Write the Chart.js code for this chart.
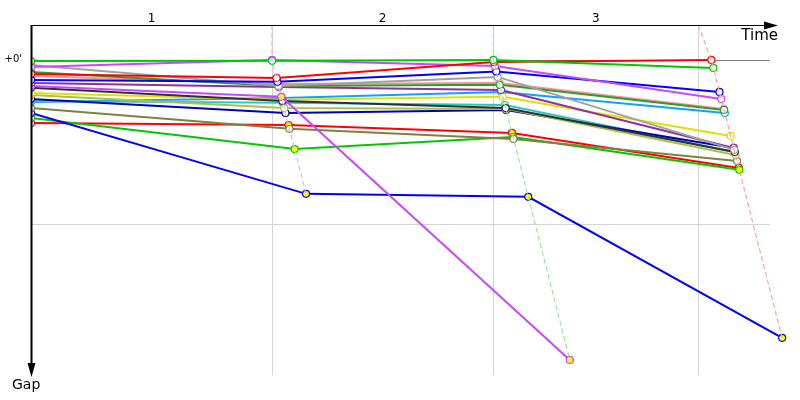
<!DOCTYPE html>
<html>
<head>
<meta charset="utf-8">
<script src="https://cdn.jsdelivr.net/npm/chart.js@4"></script>
<style>
  body { margin: 0; background: #fff; }
  #wrap { width: 800px; height: 400px; }
</style>
</head>
<body>
<div id="wrap"><canvas id="gap-chart" width="800" height="400"></canvas></div>
<script>
// race time of the leader at the end of each lap (lap 0 = start), seconds
const leaderTimes = [0, 346, 664, 977];
// vertical lap marks on the time axis and their labels
const lapMarks = [346, 664, 958];
const lapStarts = [0, 346, 664];
const lapLabels = ["1", "2", "3"];
const lapLineColors = ["#eea8ff", "#98e898", "#ffa0a0"];
// horizontal gap lines (seconds) and labels
const gapLines = [0, 60];
const gapLabels = ["+0'", ""];

// gap to leader (seconds) for each driver at lap 0..3
const driverColors = [
  "#00c800", "#ff0000", "#c848ff", "#0000ff", "#a0a0a0",
  "#28a028", "#ff8c9c", "#9030a0", "#c848ff", "#303030",
  "#e0e000", "#a8c050", "#0000b8", "#28c8c8", "#10a0ff",
  "#808040", "#0000ff", "#00c800", "#ff0000"
];
const driverGaps = [
  [0.4, 0.3, 0, 2.9],
  [5.1, 6.6, 0.7, 0],
  [2.6, 0, 2.2, 14.3],
  [7.3, 8.0, 4.2, 11.7],
  [1.8, 9.5, 6.2, 32.9],
  [4.4, 9.5, 9.1, 18.3],
  [5.9, 8.8, 8.4, 17.9],
  [8.4, 9.9, 11.0, 32.2],
  [9.5, 13.5, 109.8],
  [10.2, 15.0, 17.6, 33.7],
  [12.1, 14.6, 13.5, 27.8],
  [12.8, 17.6, 17.9, 34.8],
  [14.3, 19.4, 18.3, 32.2],
  [15.0, 15.7, 16.5, 33.7],
  [15.4, 13.9, 11.7, 19.4],
  [17.6, 25.2, 28.9, 37.0],
  [19.4, 49.0, 50.1, 101.7],
  [21.2, 32.6, 28.2, 40.2],
  [23.1, 23.8, 26.7, 39.5]
];
// laps where the marker is filled yellow
const yellowLaps = [
  [], [], [], [], [], [], [], [], [1, 2],
  [], [1], [], [], [], [], [], [1, 2, 3], [1, 2, 3], [1, 2, 3]
];

const gapMin = -12.8;
const gapMax = 115.3;

const datasets = [];

// dashed lines joining the markers of one lap
lapMarks.forEach(function (mark, i) {
  const lap = i + 1;
  let maxGap = 0;
  driverGaps.forEach(function (g) {
    if (g.length > lap && g[lap] > maxGap) maxGap = g[lap];
  });
  datasets.push({
    data: [
      { x: mark, y: gapMin },
      { x: leaderTimes[lap], y: 0 },
      { x: leaderTimes[lap] + maxGap, y: maxGap }
    ],
    borderColor: lapLineColors[i],
    borderWidth: 1.2,
    borderDash: [5, 3],
    pointRadius: 0,
    showLine: true,
    clip: false
  });
});

driverGaps.forEach(function (g, d) {
  const pts = g.map(function (gap, lap) {
    return { x: lap === 0 ? 0 : leaderTimes[lap] + gap, y: gap };
  });
  const fills = g.map(function (gap, lap) {
    return yellowLaps[d].indexOf(lap) >= 0 ? "#ffff00" : "#ffffff";
  });
  datasets.push({
    data: pts,
    borderColor: driverColors[d],
    borderWidth: 2,
    pointRadius: 3.5,
    pointBorderWidth: 1.2,
    pointBorderColor: driverColors[d],
    pointBackgroundColor: fills,
    showLine: true,
    clip: { left: 0, top: false, right: false, bottom: false }
  });
});

const decorations = {
  id: "decorations",
  beforeDatasetsDraw(chart) {
    const ctx = chart.ctx;
    const area = chart.chartArea;
    const xs = chart.scales.x;
    const ys = chart.scales.y;
    ctx.save();
    ctx.lineWidth = 1;
    // lap marks
    ctx.strokeStyle = "#d4d4d4";
    lapMarks.forEach(function (m) {
      const px = Math.round(xs.getPixelForValue(m)) + 0.5;
      ctx.beginPath();
      ctx.moveTo(px, area.top);
      ctx.lineTo(px, area.bottom);
      ctx.stroke();
    });
    // gap lines
    gapLines.forEach(function (g, i) {
      const py = Math.round(ys.getPixelForValue(g)) + 0.5;
      ctx.strokeStyle = i === 0 ? "#808080" : "#d4d4d4";
      ctx.beginPath();
      ctx.moveTo(area.left, py);
      ctx.lineTo(area.right - 20, py);
      ctx.stroke();
      ctx.fillStyle = "#000";
      ctx.font = "10px 'DejaVu Sans'";
      ctx.textAlign = "right";
      ctx.textBaseline = "middle";
      ctx.fillText(gapLabels[i], area.left - 9, py - 1);
    });
    ctx.restore();
  },
  afterDatasetsDraw(chart) {
    const ctx = chart.ctx;
    const area = chart.chartArea;
    const xs = chart.scales.x;
    ctx.save();
    ctx.strokeStyle = "#000";
    ctx.fillStyle = "#000";
    ctx.lineWidth = 1;
    // time axis with arrow
    const ty = area.top + 0.5;
    ctx.beginPath();
    ctx.moveTo(area.left, ty);
    ctx.lineTo(area.right - 14, ty);
    ctx.stroke();
    ctx.beginPath();
    ctx.moveTo(area.right - 12, ty);
    ctx.lineTo(area.right - 26, ty - 4);
    ctx.lineTo(area.right - 26, ty + 4);
    ctx.closePath();
    ctx.fill();
    // gap axis with arrow
    const gx = area.left + 0.5;
    ctx.lineWidth = 2;
    ctx.beginPath();
    ctx.moveTo(gx, area.top);
    ctx.lineTo(gx, area.bottom - 4);
    ctx.stroke();
    ctx.beginPath();
    ctx.moveTo(gx, area.bottom + 2);
    ctx.lineTo(gx - 4, area.bottom - 12);
    ctx.lineTo(gx + 4, area.bottom - 12);
    ctx.closePath();
    ctx.fill();
    // lap numbers
    ctx.font = "12px 'DejaVu Sans'";
    ctx.textAlign = "center";
    ctx.textBaseline = "middle";
    lapLabels.forEach(function (lbl, i) {
      const mid = (xs.getPixelForValue(lapStarts[i]) + xs.getPixelForValue(lapMarks[i])) / 2;
      ctx.fillText(lbl, mid, area.top - 6);
    });
    ctx.font = "15px 'DejaVu Sans'";
    ctx.textAlign = "right";
    ctx.fillText("Time", area.right - 12, area.top + 11);
    ctx.font = "14px 'DejaVu Sans'";
    ctx.textAlign = "left";
    ctx.fillText("Gap", area.left - 19, area.bottom + 10);
    ctx.restore();
  }
};

new Chart(document.getElementById("gap-chart"), {
  type: "scatter",
  data: { datasets: datasets },
  options: {
    responsive: false,
    animation: false,
    layout: { padding: { left: 31, top: 25, right: 10, bottom: 25 } },
    scales: {
      x: { type: "linear", min: 0, max: 1090, display: false },
      y: { type: "linear", min: gapMin, max: gapMax, reverse: true, display: false }
    },
    elements: { line: { tension: 0 } },
    plugins: {
      legend: { display: false },
      tooltip: { enabled: false }
    }
  },
  plugins: [decorations]
});
</script>
</body>
</html>
